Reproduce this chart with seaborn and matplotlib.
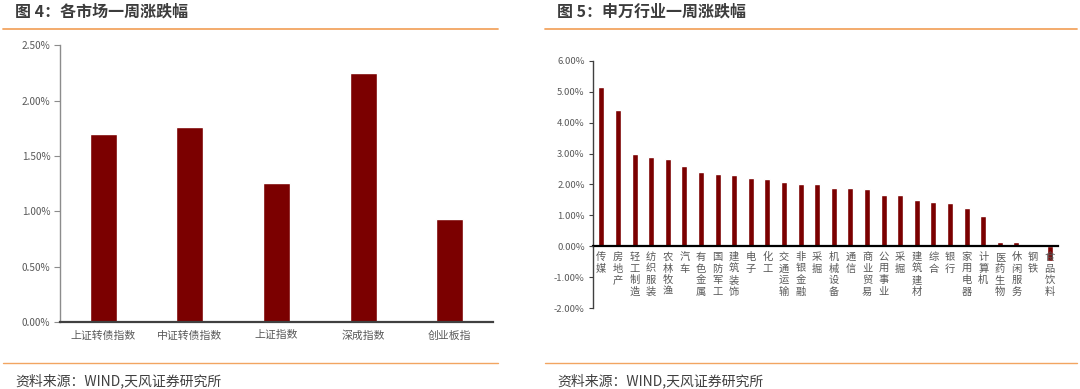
import numpy as np
import pandas as pd
import matplotlib
matplotlib.use("Agg")
import matplotlib.pyplot as plt
from matplotlib.lines import Line2D
from matplotlib.ticker import FuncFormatter, MultipleLocator
import seaborn as sns

# ---- data ----
market_names = ["上证转债指数", "中证转债指数", "上证指数", "深成指数", "创业板指"]
market_values = [1.70, 1.76, 1.26, 2.25, 0.93]

industry_names = ["传媒", "房地产", "轻工制造", "纺织服装", "农林牧渔", "汽车", "有色金属",
                  "国防军工", "建筑装饰", "电子", "化工", "交通运输", "非银金融", "采掘",
                  "机械设备", "通信", "商业贸易", "公用事业", "采掘", "建筑建材", "综合",
                  "银行", "家用电器", "计算机", "医药生物", "休闲服务", "钢铁", "食品饮料"]
industry_values = [5.16, 4.41, 2.98, 2.90, 2.83, 2.60, 2.40, 2.35, 2.32, 2.22, 2.19,
                   2.09, 2.03, 2.01, 1.89, 1.88, 1.85, 1.67, 1.65, 1.49, 1.45, 1.40,
                   1.24, 0.98, 0.15, 0.13, 0.0, -0.48]

title_left = "图 4：各市场一周涨跌幅"
title_right = "图 5：申万行业一周涨跌幅"
source_text = "资料来源：WIND,天风证券研究所"

sns.set_style("white")
plt.rcParams["font.family"] = ["Noto Sans CJK SC", "DejaVu Sans"]

W, H = 1080, 389
fig = plt.figure(figsize=(W / 100, H / 100), dpi=100)

def fx(px):
    return px / W

def fy(py):
    return 1 - py / H

bar_color = "#7B0000"
orange = "#F2A561"
text_gray = "#595959"
title_color = "#3C3C3C"

pct_fmt = FuncFormatter(lambda v, p: f"{v:.2f}%")

# ---- left chart ----
ax1 = fig.add_axes([fx(60), fy(322), fx(493 - 60), fy(45.3) - fy(322)])
df1 = pd.DataFrame({"name": market_names, "value": market_values})
sns.barplot(data=df1, x="name", y="value", ax=ax1, color=bar_color, width=0.31,
            saturation=1, order=market_names)
ax1.set_xlim(-0.5, len(market_names) - 0.5)
ax1.set_ylim(0, 2.5)
ax1.yaxis.set_major_locator(MultipleLocator(0.5))
ax1.yaxis.set_major_formatter(pct_fmt)
ax1.set_xlabel("")
ax1.set_ylabel("")
for s in ["top", "right"]:
    ax1.spines[s].set_visible(False)
ax1.spines["left"].set_color("#8C8C8C")
ax1.spines["left"].set_linewidth(1.0)
ax1.spines["bottom"].set_color("#404040")
ax1.spines["bottom"].set_linewidth(1.6)
ax1.tick_params(axis="y", left=True, length=4, width=0.8, color="#8C8C8C",
                labelsize=7.2, labelcolor=text_gray, pad=3)
ax1.tick_params(axis="x", bottom=False, length=0, labelsize=7.8,
                labelcolor=text_gray, pad=6)

# ---- right chart ----
ax2 = fig.add_axes([fx(593), fy(308.3), fx(1058 - 593), fy(60.7) - fy(308.3)])
df2 = pd.DataFrame({"pos": np.arange(len(industry_names)), "value": industry_values})
sns.barplot(data=df2, x="pos", y="value", ax=ax2, color=bar_color, width=0.36,
            saturation=1)
ax2.set_axisbelow(False)
ax2.set_xlim(-0.5, len(industry_names) - 0.5)
ax2.set_ylim(-2, 6)
ax2.yaxis.set_major_locator(MultipleLocator(1))
ax2.yaxis.set_major_formatter(pct_fmt)
ax2.set_xticks(np.arange(len(industry_names)))
ax2.set_xticklabels(["\n".join(n) for n in industry_names], linespacing=0.95,
                    va="top")
ax2.set_xlabel("")
ax2.set_ylabel("")
for s in ["top", "right"]:
    ax2.spines[s].set_visible(False)
ax2.spines["bottom"].set_position(("data", 0))
ax2.spines["bottom"].set_color("#000000")
ax2.spines["bottom"].set_linewidth(1.6)
ax2.spines["left"].set_color("#404040")
ax2.spines["left"].set_linewidth(1.0)
ax2.tick_params(axis="y", left=True, length=3, width=0.8, color="#404040",
                labelsize=6.8, labelcolor=text_gray, pad=3)
ax2.tick_params(axis="x", bottom=False, length=0, labelsize=7.4,
                labelcolor=text_gray, pad=4)

# ---- titles, separators, sources ----
fig.text(fx(15), fy(12), title_left, fontsize=11.5, fontweight="bold",
         color=title_color, va="center", ha="left")
fig.text(fx(557), fy(12), title_right, fontsize=11.5, fontweight="bold",
         color=title_color, va="center", ha="left")
for x0, x1 in [(3, 498), (545, 1077)]:
    fig.add_artist(Line2D([fx(x0), fx(x1)], [fy(29), fy(29)], color=orange, lw=1.3))
    fig.add_artist(Line2D([fx(x0), fx(x1)], [fy(363), fy(363)], color=orange, lw=1.0))
fig.text(fx(15), fy(381), source_text, fontsize=10, color="#404040",
         va="center", ha="left")
fig.text(fx(557), fy(381), source_text, fontsize=10, color="#404040",
         va="center", ha="left")

fig.savefig("out.png", dpi=100, facecolor="white")
